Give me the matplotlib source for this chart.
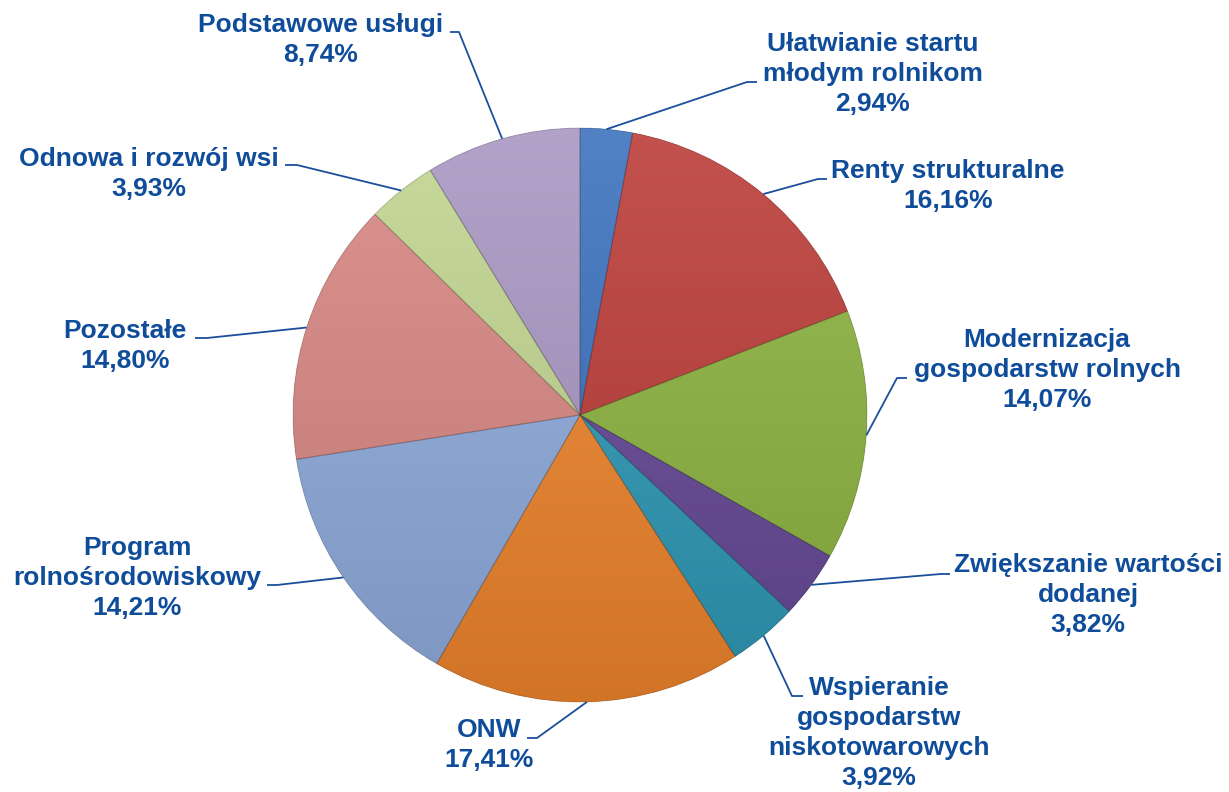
import numpy as np
import matplotlib
matplotlib.use("Agg")
import matplotlib.pyplot as plt
from matplotlib.colors import to_rgb
from matplotlib.patches import Wedge

# ----------------------------
# Data
# ----------------------------
labels = [
    "Ułatwianie startu\nmłodym rolnikom",
    "Renty strukturalne",
    "Modernizacja\ngospodarstw rolnych",
    "Zwiększanie wartości\ndodanej",
    "Wspieranie\ngospodarstw\nniskotowarowych",
    "ONW",
    "Program\nrolnośrodowiskowy",
    "Pozostałe",
    "Odnowa i rozwój wsi",
    "Podstawowe usługi",
]
shares = [2.94, 16.16, 14.07, 3.82, 3.92, 17.41, 14.21, 14.80, 3.93, 8.74]
colors = ["#3a70bd", "#bb3b37", "#8cb340", "#654795", "#2e98b5",
          "#ef842c", "#8eabdc", "#d88682", "#c0d58f", "#a896c2"]

# label block centres and leader-line elbows (pixel coords, y down)
label_pos = [(873, 74), (948, 186), (1047, 370), (1088, 595), (879, 733),
             (489, 745), (137, 578), (125, 346), (149, 174), (321, 40)]
elbows = [((747, 82), (757, 82)),
          ((818, 179), (827, 179)),
          ((897, 378), (907, 378)),
          ((941, 574), (950, 574)),
          ((792, 696), (803, 696)),
          ((537, 738), (527, 738)),
          ((277, 585), (267, 585)),
          ((207, 338), (195, 338)),
          ((297, 165), (285, 165)),
          ((459, 32), (450, 32))]

text_color = "#0f4c9a"
line_color = "#1a4f9c"

cx, cy, r = 580, 415, 287


def main():
    fig = plt.figure(figsize=(12.29, 7.92), dpi=100)
    ax = fig.add_axes([0, 0, 1, 1])

    wedges, _ = ax.pie(shares, colors=colors, startangle=-90, counterclock=True,
                       center=(cx, cy), radius=r, frame=True,
                       wedgeprops=dict(edgecolor="none", linewidth=0))

    # vertical shading inside each wedge
    t = np.linspace(0, 1, 256)[:, None]
    for w, c in zip(wedges, colors):
        base = np.array(to_rgb(c))
        top = base + (1 - base) * 0.12
        bot = base * 0.88
        grad = (top[None, None, :] * (1 - t[..., None]) + bot[None, None, :] * t[..., None])
        im = ax.imshow(grad, extent=(cx - r, cx + r, cy + r, cy - r), origin="upper",
                       interpolation="bilinear", zorder=1.5)
        im.set_clip_path(w)
        # soft edge on top of shading
        ax.add_patch(Wedge(w.center, w.r, w.theta1, w.theta2, facecolor="none",
                           edgecolor="#00000026", linewidth=0.8, zorder=2))

    # leader lines and labels
    for w, lab, val, (tx, ty), (p1, p2) in zip(wedges, labels, shares, label_pos, elbows):
        ang = np.deg2rad((w.theta1 + w.theta2) / 2)
        sx = cx + r * np.cos(ang)
        sy = cy + r * np.sin(ang)
        ax.plot([sx, p1[0], p2[0]], [sy, p1[1], p2[1]], color=line_color,
                lw=1.3, zorder=3, solid_capstyle="butt")
        txt = lab + "\n" + f"{val:.2f}".replace(".", ",") + "%"
        ax.text(tx, ty, txt, ha="center", va="center", fontsize=19,
                fontweight="bold", family=["Liberation Sans", "DejaVu Sans"],
                color=text_color, linespacing=1.3, zorder=4)

    ax.set_xlim(0, 1229)
    ax.set_ylim(792, 0)
    ax.set_aspect("equal")
    ax.axis("off")

    fig.savefig("out.png", dpi=100, facecolor="white")
    plt.close(fig)


if __name__ == "__main__":
    main()
